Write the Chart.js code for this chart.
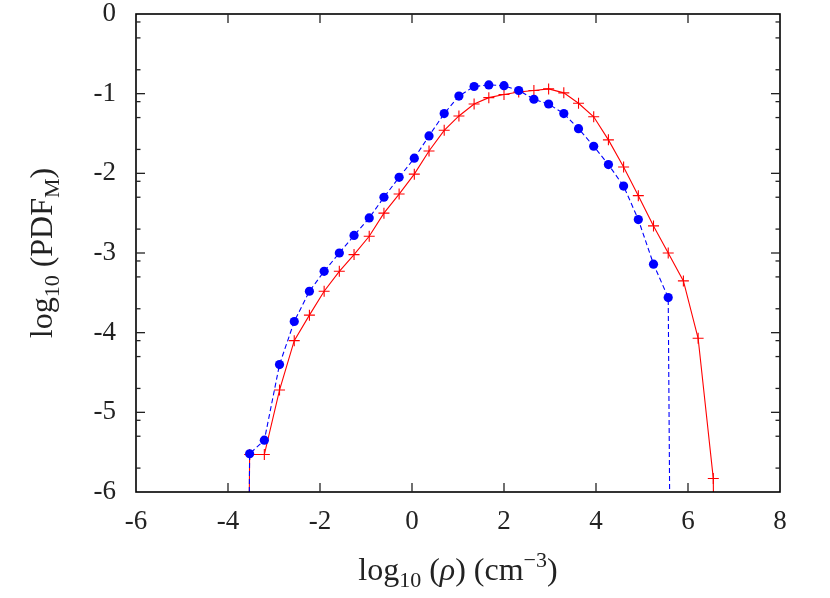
<!DOCTYPE html>
<html>
<head>
<meta charset="utf-8">
<script src="https://cdn.jsdelivr.net/npm/chart.js@4"></script>
<style>
  html, body { margin: 0; padding: 0; background: #fff; }
  #wrap { width: 830px; height: 598px; }
</style>
</head>
<body>
<div id="wrap"><canvas id="pdf"></canvas></div>
<script>
// --- donnees ---
// bins en log10(rho); le premier et le dernier servent aux chutes vers log10(0)
const logRho = [-3.86, -3.53, -3.21, -2.88, -2.56, -2.23, -1.91, -1.58, -1.26, -0.93,
  -0.61, -0.28, 0.05, 0.37, 0.70, 1.02, 1.35, 1.67, 2.00, 2.32,
  2.65, 2.97, 3.30, 3.62, 3.95, 4.27, 4.60, 4.92, 5.25, 5.57,
  5.90, 6.22, 6.55, 6.87];

// serie bleue (points ronds, tirets)
const pdfBlue = [-30, -5.52, -5.35, -4.40, -3.86, -3.48, -3.23, -3.00, -2.78, -2.56,
  -2.30, -2.05, -1.81, -1.53, -1.25, -1.03, -0.91, -0.89, -0.90, -0.96,
  -1.07, -1.13, -1.25, -1.44, -1.66, -1.89, -2.16, -2.58, -3.14, -3.56,
  -30, null, null, null];

// serie rouge (croix, trait plein)
const pdfRed = [-30, -5.53, -5.53, -4.72, -4.10, -3.78, -3.48, -3.23, -3.02, -2.79,
  -2.50, -2.26, -2.01, -1.72, -1.46, -1.28, -1.13, -1.05, -1.01, -0.98,
  -0.96, -0.94, -0.99, -1.12, -1.29, -1.58, -1.92, -2.28, -2.66, -3.00,
  -3.35, -4.07, -5.83, -30];

const xTicks = [-6, -4, -2, 0, 2, 4, 6, 8];
const yTicks = [0, -1, -2, -3, -4, -5, -6];
const yMinorOffsets = [0.1, 0.3, 0.7];

const FONT = '"Liberation Serif", "DejaVu Serif", serif';
const TXT = '#222';

const toPoints = arr => arr.map((v, i) => ({ x: logRho[i], y: v })).filter(p => p.y !== null);
const isFloor = ctx => ctx.raw && ctx.raw.y < -6;

// --- cadre, graduations interieures et titres d'axes ---
function drawRich(ctx, parts, x, y) {
  let cx = x;
  parts.forEach(p => {
    ctx.font = p.f;
    ctx.fillText(p.t, cx, y + (p.dy || 0));
    cx += ctx.measureText(p.t).width;
  });
}
function richWidth(ctx, parts) {
  let w = 0;
  parts.forEach(p => { ctx.font = p.f; w += ctx.measureText(p.t).width; });
  return w;
}

const framePlugin = {
  id: 'framePlugin',
  afterDraw(chart) {
    const { ctx, chartArea: a, scales: { x, y } } = chart;
    ctx.save();
    ctx.strokeStyle = '#000';
    ctx.lineWidth = 1.6;
    ctx.strokeRect(a.left, a.top, a.right - a.left, a.bottom - a.top);

    ctx.lineWidth = 1.3;
    ctx.strokeStyle = '#222';
    const seg = (x1, y1, x2, y2) => { ctx.beginPath(); ctx.moveTo(x1, y1); ctx.lineTo(x2, y2); ctx.stroke(); };
    xTicks.forEach(v => {
      const px = x.getPixelForValue(v);
      if (px <= a.left + 1 || px >= a.right - 1) return;
      seg(px, a.bottom, px, a.bottom - 9);
      seg(px, a.top, px, a.top + 9);
    });
    yTicks.forEach(v => {
      const py = y.getPixelForValue(v);
      if (py > a.top + 1 && py < a.bottom - 1) {
        seg(a.left, py, a.left + 9, py);
        seg(a.right, py, a.right - 9, py);
      }
      yMinorOffsets.forEach(o => {
        const m = v - o;
        if (m <= -6) return;
        const pm = y.getPixelForValue(m);
        seg(a.left, pm, a.left + 4.5, pm);
        seg(a.right, pm, a.right - 4.5, pm);
      });
    });

    // titres
    ctx.fillStyle = TXT;
    ctx.textBaseline = 'alphabetic';
    ctx.textAlign = 'left';
    const big = '32px ' + FONT, small = '22px ' + FONT, ital = 'italic 32px ' + FONT;
    const xTitle = [
      { t: 'log', f: big }, { t: '10', f: small, dy: 7 },
      { t: ' (', f: big }, { t: 'ρ', f: ital }, { t: ') (cm', f: big },
      { t: '−3', f: small, dy: -13 }, { t: ')', f: big }
    ];
    const wx = richWidth(ctx, xTitle);
    drawRich(ctx, xTitle, (a.left + a.right) / 2 - wx / 2, 580);

    const yTitle = [
      { t: 'log', f: big }, { t: '10', f: small, dy: 7 },
      { t: ' (PDF', f: big }, { t: 'M', f: small, dy: 7 }, { t: ')', f: big }
    ];
    const wy = richWidth(ctx, yTitle);
    ctx.translate(52, (a.top + a.bottom) / 2);
    ctx.rotate(-Math.PI / 2);
    drawRich(ctx, yTitle, -wy / 2, 0);
    ctx.restore();
  }
};

document.addEventListener('DOMContentLoaded', () => {
  new Chart(document.getElementById('pdf').getContext('2d'), {
    type: 'line',
    data: {
      datasets: [
        {
          label: 'bleu',
          data: toPoints(pdfBlue),
          borderColor: '#0000ff',
          backgroundColor: '#0000ff',
          borderWidth: 1.1,
          borderDash: [5, 3],
          pointStyle: 'circle',
          pointRadius: c => isFloor(c) ? 0 : 4.6,
          pointBorderWidth: 0,
          tension: 0
        },
        {
          label: 'rouge',
          data: toPoints(pdfRed),
          borderColor: '#ff0000',
          backgroundColor: '#ff0000',
          borderWidth: 1.1,
          pointStyle: 'cross',
          pointRadius: c => isFloor(c) ? 0 : 5.5,
          pointBorderWidth: 1.1,
          tension: 0
        }
      ]
    },
    options: {
      responsive: true,
      maintainAspectRatio: false,
      animation: false,
      events: [],
      layout: { padding: { top: 14, right: 50, left: 0, bottom: 0 } },
      plugins: { legend: { display: false }, tooltip: { enabled: false } },
      scales: {
        x: {
          type: 'linear',
          min: -6, max: 8,
          afterFit: s => { s.height = 106; s.paddingLeft = 0; s.paddingRight = 0; },
          afterBuildTicks: s => { s.ticks = xTicks.map(v => ({ value: v })); },
          grid: { display: false, drawTicks: false },
          border: { display: false },
          ticks: { padding: 14, color: TXT, font: { family: FONT, size: 27 }, callback: v => String(v), maxRotation: 0 }
        },
        y: {
          min: -6, max: 0,
          afterFit: s => { s.width = 136; s.paddingTop = 0; s.paddingBottom = 0; },
          afterBuildTicks: s => { s.ticks = yTicks.map(v => ({ value: v })); },
          grid: { display: false, drawTicks: false },
          border: { display: false },
          ticks: { padding: 20, color: TXT, font: { family: FONT, size: 27 }, callback: v => String(v) }
        }
      }
    },
    plugins: [framePlugin]
  });
});
</script>
</body>
</html>
